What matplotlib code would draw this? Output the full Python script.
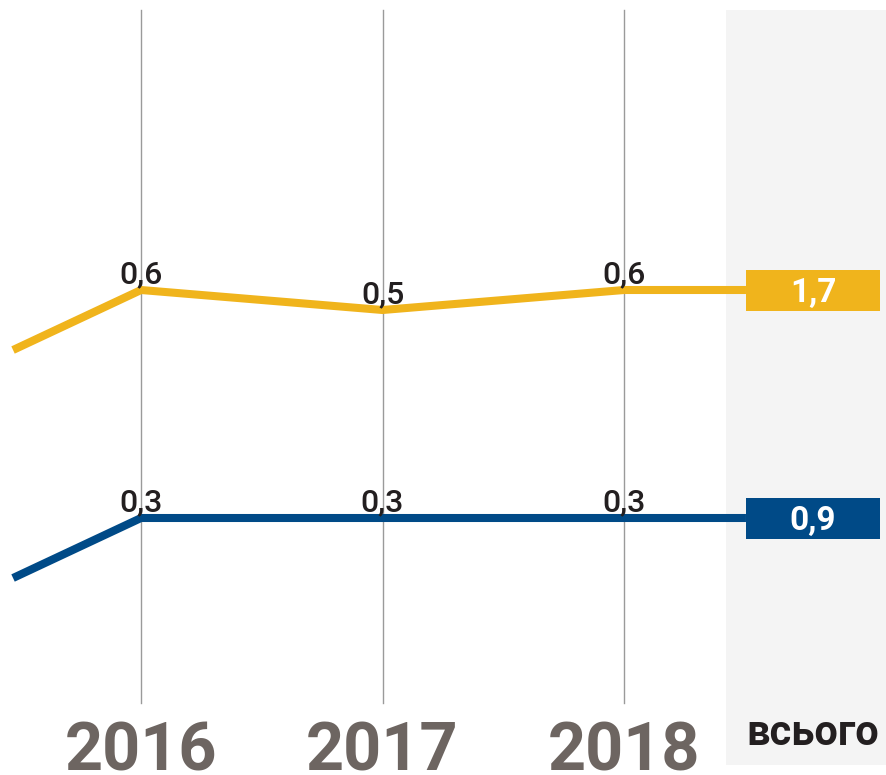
import matplotlib
matplotlib.use("Agg")
import matplotlib.pyplot as plt
from matplotlib.patches import Rectangle

plt.rcParams['font.family'] = ['Roboto', 'DejaVu Sans']

# data
years = [2016, 2017, 2018]
year_labels = ['2016', '2017', '2018']
total_label = 'всього'
lead_x = 2015.47          # where the lines come in from the left
yellow_lead = 0.3
yellow_vals = [0.6, 0.5, 0.6]
yellow_total = 1.7
blue_lead = 0.0
blue_vals = [0.3, 0.3, 0.3]
blue_total = 0.9

# styling
yellow = '#f0b41c'
blue = '#004a87'
year_col = '#6d6561'
txt_col = '#231f20'
offsets = {'yellow': 0.0, 'blue': -0.84}
box_left = 2018.505
box_w = 0.555
box_h = 0.205
band_left = 2018.422

fig = plt.figure(figsize=(8.87, 7.75), dpi=100)
ax = fig.add_axes([0, 0, 1, 1])
ax.set_xlim(2015.416, 2019.089)
ax.set_ylim(-1.825, 2.05)
ax.axis('off')

# grey band for the total column
ax.add_patch(Rectangle((band_left, -1.775), 1.0, 3.775, color='#f4f4f4', lw=0, zorder=0))

# vertical grid lines
for y in years:
    ax.plot([y, y], [-1.465, 2.0], color='#9a9a9a', lw=1, zorder=1)

def fmt(v):
    return f'{v:.1f}'.replace('.', ',')

for name, col, lead, vals, total in [('yellow', yellow, yellow_lead, yellow_vals, yellow_total),
                                     ('blue', blue, blue_lead, blue_vals, blue_total)]:
    off = offsets[name]
    xs = [lead_x] + years + [box_left]
    ys = [lead + off] + [v + off for v in vals] + [vals[-1] + off]
    ax.plot(xs, ys, color=col, lw=5.8, solid_capstyle='butt', solid_joinstyle='miter', zorder=3)
    for x, v in zip(years, vals):
        ax.annotate(fmt(v), (x, v + off), xytext=(0, 5), textcoords='offset points',
                    ha='center', va='baseline', fontsize=23, fontweight='medium',
                    color=txt_col, zorder=4)
    yb = vals[-1] + off
    ax.add_patch(Rectangle((box_left, yb - box_h / 2), box_w, box_h, color=col, lw=0, zorder=4))
    ax.text(box_left + box_w / 2, yb, fmt(total), ha='center', va='center_baseline',
            fontsize=24, fontweight='bold', color='white', zorder=5)

tr = ax.get_xaxis_transform()
for y, lab in zip(years, year_labels):
    ax.text(y, 0.006, lab, transform=tr, ha='center', va='baseline',
            fontsize=48, fontweight='bold', color=year_col)
ax.text(box_left + box_w / 2, 0.039, total_label, transform=tr, ha='center', va='baseline',
        fontsize=30, fontweight='bold', color=txt_col)

fig.savefig('out.png', dpi=100)
